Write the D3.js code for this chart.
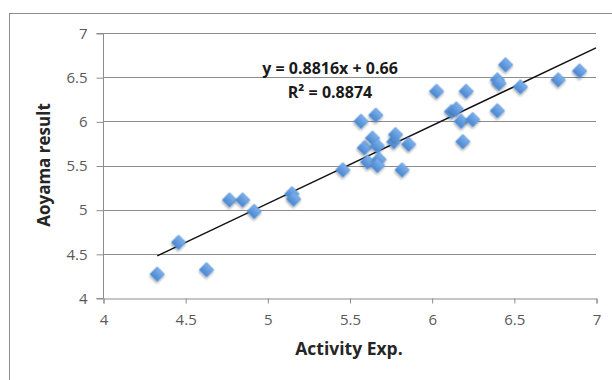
<!DOCTYPE html>
<html>
<head>
<meta charset="utf-8">
<script src="https://cdn.jsdelivr.net/npm/d3@7"></script>
<style>
  body { margin: 0; background: #fff; }
  text { font-family: "Open Sans", sans-serif; }
</style>
</head>
<body>
<svg width="612" height="380"></svg>
<script>
// values
var activityExp = [4.33, 4.46, 4.63, 4.77, 4.85, 4.92, 5.15, 5.16, 5.46, 5.57, 5.66, 5.59,
  5.64, 5.61, 5.67, 5.68, 5.67, 5.77, 5.78, 5.82, 5.86, 6.03, 6.21, 6.12, 6.15, 6.18,
  6.25, 6.19, 6.40, 6.40, 6.41, 6.45, 6.54, 6.77, 6.90];
var aoyamaResult = [4.27, 4.63, 4.32, 5.11, 5.11, 4.98, 5.18, 5.12, 5.45, 6.00, 6.07, 5.70,
  5.81, 5.54, 5.72, 5.57, 5.50, 5.77, 5.85, 5.45, 5.74, 6.34, 6.34, 6.11, 6.14, 6.00,
  6.02, 5.77, 6.12, 6.47, 6.43, 6.64, 6.39, 6.47, 6.57];
var xTicks = [4, 4.5, 5, 5.5, 6, 6.5, 7];
var yTicks = [4, 4.5, 5, 5.5, 6, 6.5, 7];
var slope = 0.8816, intercept = 0.66;
var equationLines = ["y = 0.8816x + 0.66", "R² = 0.8874"];

var svg = d3.select("svg");

// outer chart frame (cut off right and bottom)
svg.append("rect")
    .attr("x", 9.5).attr("y", 13.5)
    .attr("width", 640).attr("height", 400)
    .attr("fill", "none").attr("stroke", "#8c8c8c").attr("stroke-width", 1);

var x = d3.scaleLinear().domain([4, 7]).range([103, 596]);
var y = d3.scaleLinear().domain([4, 7]).range([298, 33]);

var defs = svg.append("defs");
var grad = defs.append("linearGradient").attr("id", "dia")
    .attr("x1", 0).attr("y1", 0).attr("x2", 0).attr("y2", 1);
grad.append("stop").attr("offset", "0%").attr("stop-color", "#7cb2ec");
grad.append("stop").attr("offset", "100%").attr("stop-color", "#4a86cf");
var f = defs.append("filter").attr("id", "shadow")
    .attr("x", "-50%").attr("y", "-50%").attr("width", "200%").attr("height", "200%");
f.append("feDropShadow").attr("dx", 1).attr("dy", 1.5).attr("stdDeviation", 1.2)
    .attr("flood-color", "#000").attr("flood-opacity", 0.35);

// gridlines
svg.append("g").selectAll("line")
    .data(yTicks.slice(1))
    .enter().append("line")
    .attr("x1", x(4)).attr("x2", x(7))
    .attr("y1", function(d) { return Math.round(y(d)) + 0.5; })
    .attr("y2", function(d) { return Math.round(y(d)) + 0.5; })
    .attr("stroke", "#8c8c8c").attr("stroke-width", 1);

// axes
var yAxis = svg.append("g")
    .attr("transform", "translate(" + (x(4) + 0.5) + ",0.5)")
    .call(d3.axisLeft(y).tickValues(yTicks).tickSize(7).tickPadding(9)
      .tickFormat(function(d) { return d; }));
var xAxis = svg.append("g")
    .attr("transform", "translate(0.5," + (y(4) + 0.5) + ")")
    .call(d3.axisBottom(x).tickValues(xTicks).tickSize(5).tickPadding(11)
      .tickFormat(function(d) { return d; }));
[xAxis, yAxis].forEach(function(a) {
  a.select(".domain").attr("stroke", "#8c8c8c");
  a.selectAll(".tick line").attr("stroke", "#8c8c8c");
  a.selectAll(".tick text")
      .attr("fill", "#595959")
      .style("font-size", "15px")
      .style("font-family", "'Open Sans', sans-serif");
});
yAxis.select(".domain").attr("d", "M-7," + y(7) + "H0V" + y(4) + "H-7");

// axis titles
svg.append("text")
    .attr("x", 349).attr("y", 355)
    .attr("text-anchor", "middle")
    .attr("font-weight", "bold").attr("font-size", 17.5).attr("fill", "#262626")
    .text("Activity Exp.");
svg.append("text")
    .attr("transform", "translate(50,165) rotate(-90)")
    .attr("text-anchor", "middle")
    .attr("font-weight", "bold").attr("font-size", 17).attr("fill", "#262626")
    .text("Aoyama result");

// trendline
svg.append("line")
    .attr("x1", x(d3.min(activityExp))).attr("y1", y(slope * d3.min(activityExp) + intercept))
    .attr("x2", x(7)).attr("y2", y(slope * 7 + intercept))
    .attr("stroke", "#111").attr("stroke-width", 1.5);

// points
var pts = d3.range(activityExp.length).map(function(i) {
  return [activityExp[i], aoyamaResult[i]];
});
var diamond = d3.symbol().type(d3.symbolSquare).size(105);
svg.append("g").selectAll("path")
    .data(pts)
    .enter().append("path")
    .attr("d", diamond)
    .attr("transform", function(d) {
      return "translate(" + x(d[0]) + "," + y(d[1]) + ") rotate(45)";
    })
    .attr("fill", "url(#dia)")
    .attr("stroke", "#5e95d6").attr("stroke-width", 0.6)
    .attr("filter", "url(#shadow)");

// equation labels
svg.append("g").selectAll("text")
    .data(equationLines)
    .enter().append("text")
    .attr("x", 330)
    .attr("y", function(d, i) { return 74 + i * 24; })
    .attr("text-anchor", "middle")
    .attr("font-weight", "bold").attr("font-size", 16).attr("fill", "#1a1a1a")
    .text(function(d) { return d; });
</script>
</body>
</html>
